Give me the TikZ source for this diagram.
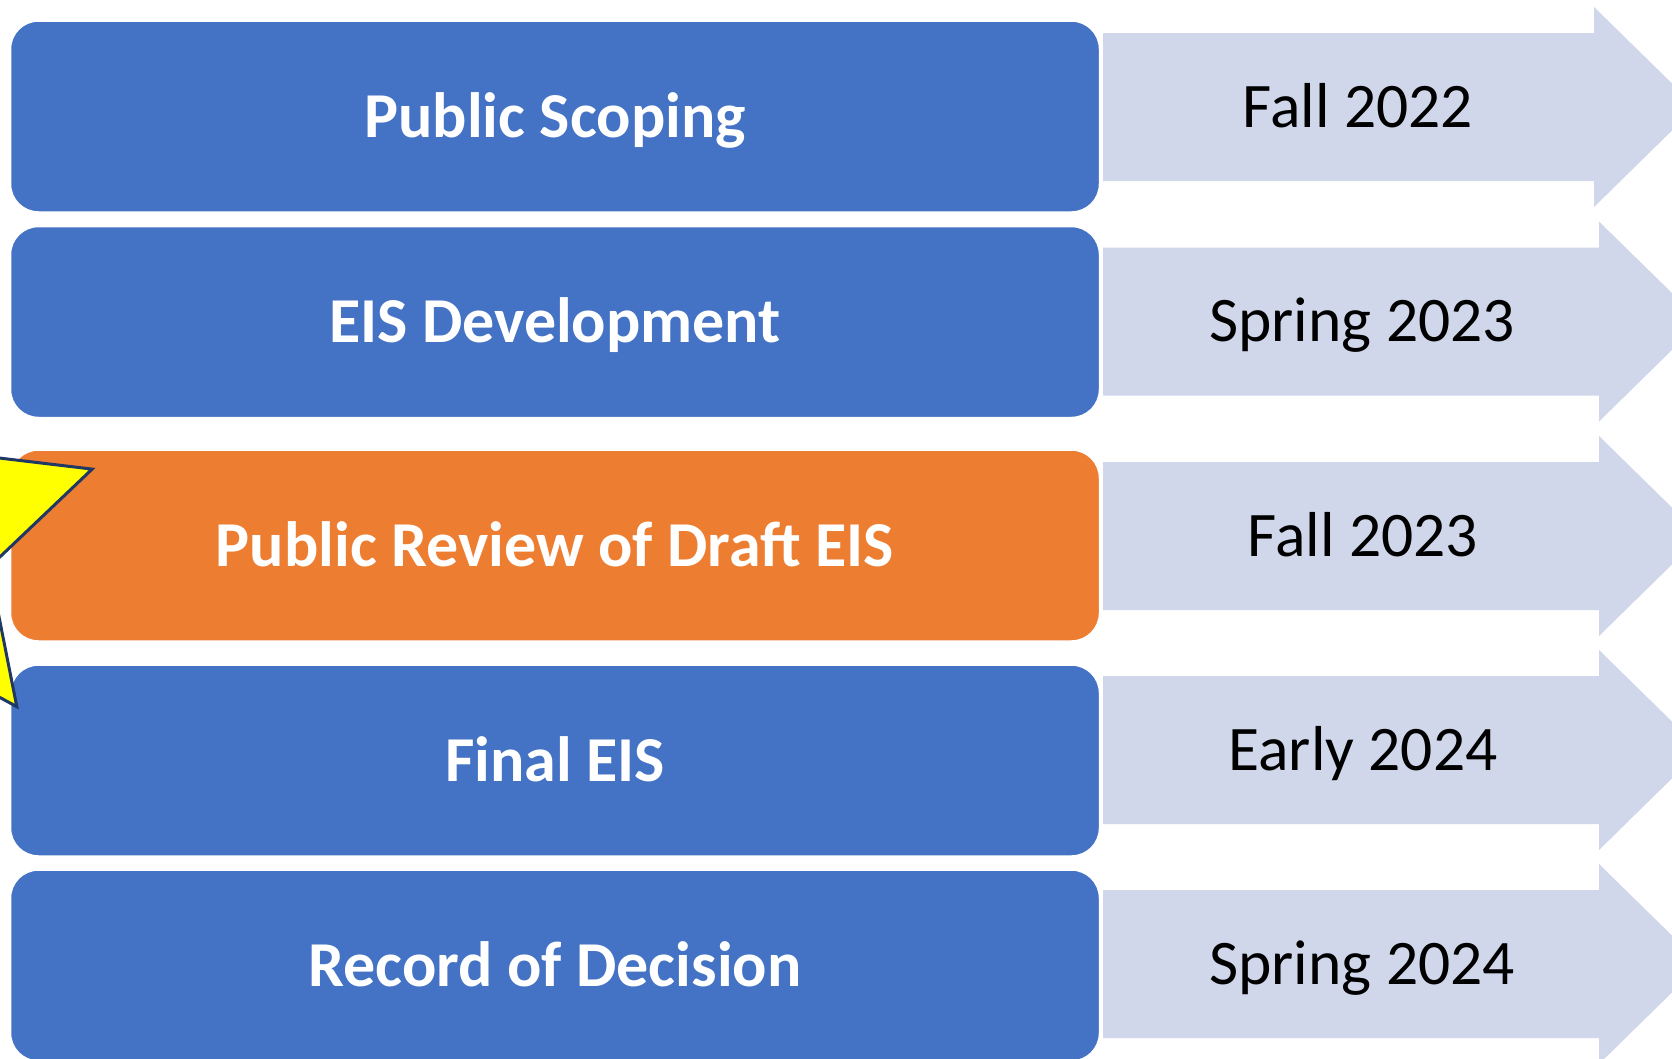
\documentclass[tikz,border=0pt]{standalone}
\usepackage{fontspec}
\setmainfont{Carlito}
\definecolor{boxblue}{HTML}{4472C4}
\definecolor{boxorange}{HTML}{ED7D31}
\definecolor{arrowfill}{HTML}{D0D7EA}
\definecolor{staryellow}{HTML}{FFFF00}
\definecolor{starline}{HTML}{1F3864}
\begin{document}
\begin{tikzpicture}[x=1pt,y=-1pt,
  stagebox/.style={rectangle, rounded corners=28pt, draw=white, line width=1.5pt,
    minimum width=1089pt, minimum height=191pt, inner sep=0pt,
    text=white, font=\fontsize{64}{70}\selectfont\bfseries,
    text height=41pt, text depth=0pt},
  datelabel/.style={inner sep=0pt, text=black, font=\fontsize{63.5}{70}\selectfont,
    text height=40.6pt, text depth=0pt},
  timearrow/.style={fill=arrowfill, draw=none},
  starshape/.style={fill=staryellow, draw=starline, line width=3pt, line join=miter}]
\clip (0,0) rectangle (1672,1058);
\fill[white] (0,0) rectangle (1672,1058);

% arrows: body left x, head base x, centre y
\foreach \cy/\hb [count=\i] in {107/1594, 321.5/1599, 536/1599, 750/1599, 964/1599}{
  \fill[timearrow] (1103,\cy-74) -- (\hb,\cy-74) -- (\hb,\cy-100)
     -- (\hb+102,\cy) -- (\hb,\cy+100) -- (\hb,\cy+74) -- (1103,\cy+74) -- cycle;
}

\node[datelabel] (d1) at (1358,107) {Fall 2022};
\node[datelabel] (d2) at (1362,321.5) {Spring 2023};
\node[datelabel] (d3) at (1363,536) {Fall 2023};
\node[datelabel] (d4) at (1363,750) {Early 2024};
\node[datelabel] (d5) at (1362,964) {Spring 2024};

\node[stagebox, fill=boxblue] (b1) at (555,116.5) {Public Scoping};
\node[stagebox, fill=boxblue] (b2) at (555,322) {EIS Development};
\node[stagebox, fill=boxorange] (b3) at (555,545.5) {Public Review of Draft EIS};
\node[stagebox, fill=boxblue] (b4) at (555,760.5) {Final EIS};
\node[stagebox, fill=boxblue] (b5) at (555,965.5) {Record of Decision};

% star
\begin{scope}[shift={(-109,536)}]
\draw[starshape] (18.4:212pt) -- (54.4:103pt) -- (90.4:212pt) -- (126.4:103pt)
  -- (162.4:212pt) -- (198.4:103pt) -- (234.4:212pt) -- (270.4:103pt)
  -- (306.4:212pt) -- (342.4:103pt) -- cycle;
\end{scope}
\end{tikzpicture}
\end{document}
